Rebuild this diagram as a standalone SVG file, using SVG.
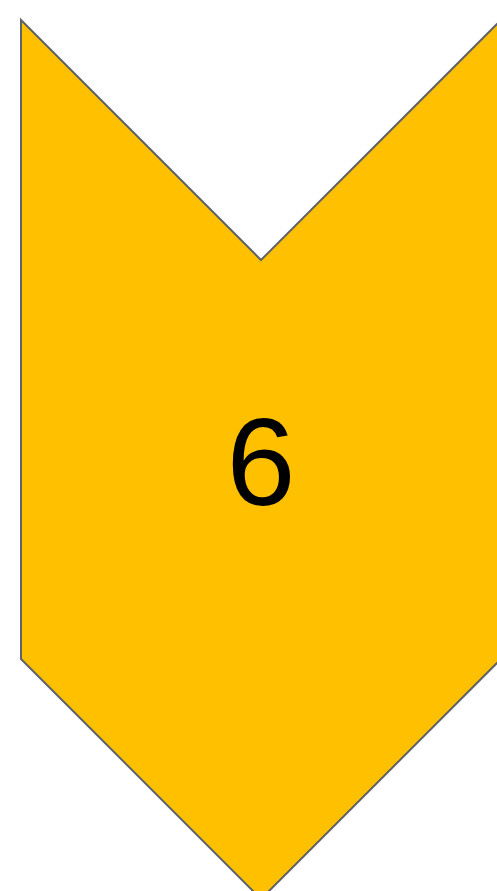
<svg xmlns="http://www.w3.org/2000/svg" width="497" height="891" viewBox="0 0 497 891">
  <style>
    .chev { fill: #FFC000; stroke: #5F6368; stroke-width: 2; stroke-linejoin: miter; }
    .lbl { font-family: "Liberation Sans", Arial, sans-serif; font-size: 124px; fill: #000000; text-anchor: middle; }
  </style>
  <rect width="497" height="891" fill="#FFFFFF"/>
  <g id="node-6">
    <polygon class="chev" points="21,20 261,260 501,20 501,659 261,899 21,659"/>
    <text class="lbl" x="261" y="505">6</text>
  </g>
  <g id="connectors"></g>
</svg>
